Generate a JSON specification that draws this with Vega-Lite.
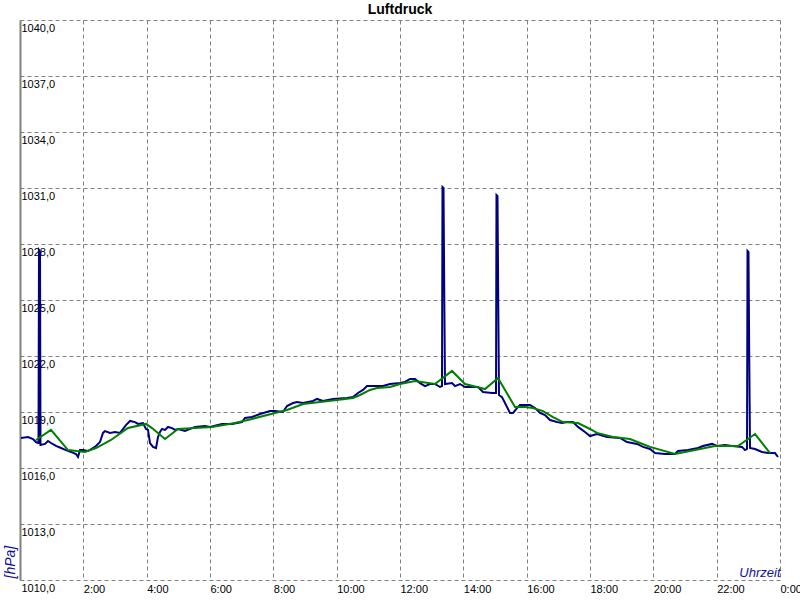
{
  "$schema": "https://vega.github.io/schema/vega-lite/v6.json",
  "width": 760,
  "height": 560,
  "autosize": "none",
  "padding": {"left": 20, "top": 20, "right": 20, "bottom": 20},
  "background": "white",
  "title": {"text": "Luftdruck", "font": "Liberation Sans", "fontSize": 14, "fontWeight": "bold", "color": "black", "offset": 3},
  "config": {"view": {"stroke": null}},
  "datasets": {
    "ist": [
      {"t": 0.032, "p": 1017.61}, {"t": 0.253, "p": 1017.66}, {"t": 0.411, "p": 1017.55}, {"t": 0.505, "p": 1017.39},
      {"t": 0.568, "p": 1017.34}, {"t": 0.584, "p": 1017.34}, {"t": 0.600, "p": 1027.68}, {"t": 0.632, "p": 1027.6}, {"t": 0.647, "p": 1017.23},
      {"t": 0.789, "p": 1017.29}, {"t": 0.884, "p": 1017.45}, {"t": 0.979, "p": 1017.34}, {"t": 1.137, "p": 1017.18},
      {"t": 1.295, "p": 1017.07}, {"t": 1.453, "p": 1016.96}, {"t": 1.611, "p": 1016.86}, {"t": 1.768, "p": 1016.75},
      {"t": 1.832, "p": 1016.59}, {"t": 1.895, "p": 1016.96}, {"t": 1.989, "p": 1016.96}, {"t": 2.147, "p": 1016.91},
      {"t": 2.368, "p": 1017.13}, {"t": 2.526, "p": 1017.39}, {"t": 2.621, "p": 1017.88}, {"t": 2.684, "p": 1017.98},
      {"t": 2.842, "p": 1017.88}, {"t": 3.0, "p": 1017.93}, {"t": 3.158, "p": 1017.88}, {"t": 3.347, "p": 1018.30},
      {"t": 3.474, "p": 1018.52}, {"t": 3.632, "p": 1018.46}, {"t": 3.726, "p": 1018.36}, {"t": 3.884, "p": 1018.41},
      {"t": 3.979, "p": 1018.09}, {"t": 4.042, "p": 1018.04}, {"t": 4.105, "p": 1017.34}, {"t": 4.2, "p": 1017.13},
      {"t": 4.295, "p": 1017.07}, {"t": 4.358, "p": 1017.66}, {"t": 4.421, "p": 1017.93}, {"t": 4.484, "p": 1018.09},
      {"t": 4.579, "p": 1018.04}, {"t": 4.674, "p": 1018.20}, {"t": 4.8, "p": 1018.14}, {"t": 4.895, "p": 1018.04},
      {"t": 4.989, "p": 1018.09}, {"t": 5.211, "p": 1017.98}, {"t": 5.526, "p": 1018.20}, {"t": 5.842, "p": 1018.25},
      {"t": 6.0, "p": 1018.20}, {"t": 6.379, "p": 1018.36}, {"t": 6.695, "p": 1018.36}, {"t": 7.011, "p": 1018.46},
      {"t": 7.105, "p": 1018.68}, {"t": 7.326, "p": 1018.73}, {"t": 7.579, "p": 1018.89}, {"t": 7.895, "p": 1019.05},
      {"t": 8.053, "p": 1019.05}, {"t": 8.305, "p": 1019.00}, {"t": 8.432, "p": 1019.32}, {"t": 8.621, "p": 1019.48},
      {"t": 8.747, "p": 1019.54}, {"t": 8.937, "p": 1019.48}, {"t": 9.095, "p": 1019.54}, {"t": 9.253, "p": 1019.59},
      {"t": 9.379, "p": 1019.70}, {"t": 9.568, "p": 1019.59}, {"t": 9.884, "p": 1019.70}, {"t": 10.326, "p": 1019.75},
      {"t": 10.516, "p": 1019.80}, {"t": 10.674, "p": 1020.02}, {"t": 10.832, "p": 1020.18}, {"t": 10.958, "p": 1020.39},
      {"t": 11.274, "p": 1020.39}, {"t": 11.463, "p": 1020.39}, {"t": 11.684, "p": 1020.50}, {"t": 12.0, "p": 1020.55},
      {"t": 12.158, "p": 1020.61}, {"t": 12.316, "p": 1020.77}, {"t": 12.474, "p": 1020.77}, {"t": 12.632, "p": 1020.55},
      {"t": 12.789, "p": 1020.39}, {"t": 12.947, "p": 1020.50}, {"t": 13.105, "p": 1020.50}, {"t": 13.263, "p": 1020.34},
      {"t": 13.326, "p": 1020.39}, {"t": 13.342, "p": 1031.05}, {"t": 13.374, "p": 1031.0}, {"t": 13.396, "p": 1025.80}, {"t": 13.421, "p": 1020.50},
      {"t": 13.642, "p": 1020.55}, {"t": 13.737, "p": 1020.39}, {"t": 13.895, "p": 1020.50}, {"t": 14.053, "p": 1020.34},
      {"t": 14.211, "p": 1020.34}, {"t": 14.463, "p": 1020.34}, {"t": 14.621, "p": 1020.07}, {"t": 14.905, "p": 1020.02},
      {"t": 15.032, "p": 1020.02}, {"t": 15.047, "p": 1030.63}, {"t": 15.079, "p": 1030.58}, {"t": 15.101, "p": 1025.27}, {"t": 15.126, "p": 1019.91},
      {"t": 15.221, "p": 1019.80}, {"t": 15.316, "p": 1019.48}, {"t": 15.474, "p": 1018.95}, {"t": 15.568, "p": 1018.95},
      {"t": 15.695, "p": 1019.21}, {"t": 15.789, "p": 1019.38}, {"t": 15.947, "p": 1019.38}, {"t": 16.105, "p": 1019.38},
      {"t": 16.263, "p": 1019.21}, {"t": 16.421, "p": 1018.95}, {"t": 16.579, "p": 1018.84}, {"t": 16.737, "p": 1018.57},
      {"t": 16.958, "p": 1018.46}, {"t": 17.116, "p": 1018.41}, {"t": 17.274, "p": 1018.46}, {"t": 17.463, "p": 1018.46},
      {"t": 17.621, "p": 1018.20}, {"t": 17.842, "p": 1017.93}, {"t": 18.0, "p": 1017.71}, {"t": 18.221, "p": 1017.82},
      {"t": 18.537, "p": 1017.66}, {"t": 18.947, "p": 1017.61}, {"t": 19.168, "p": 1017.39}, {"t": 19.484, "p": 1017.29},
      {"t": 19.674, "p": 1017.13}, {"t": 19.895, "p": 1017.02}, {"t": 20.053, "p": 1016.80}, {"t": 20.368, "p": 1016.75},
      {"t": 20.684, "p": 1016.75}, {"t": 20.779, "p": 1016.91}, {"t": 21.095, "p": 1016.96}, {"t": 21.411, "p": 1017.07},
      {"t": 21.568, "p": 1017.18}, {"t": 21.853, "p": 1017.29}, {"t": 22.011, "p": 1017.18}, {"t": 22.263, "p": 1017.23},
      {"t": 22.484, "p": 1017.18}, {"t": 22.8, "p": 1017.13}, {"t": 22.895, "p": 1016.96}, {"t": 22.958, "p": 1017.02},
      {"t": 22.974, "p": 1027.63}, {"t": 23.005, "p": 1027.58}, {"t": 23.027, "p": 1022.32}, {"t": 23.053, "p": 1017.07}, {"t": 23.211, "p": 1017.02},
      {"t": 23.432, "p": 1016.86}, {"t": 23.621, "p": 1016.80}, {"t": 23.842, "p": 1016.80}, {"t": 23.937, "p": 1016.59}
    ],
    "mittel": [
      {"t": 0.505, "p": 1017.50}, {"t": 0.979, "p": 1018.04}, {"t": 1.516, "p": 1016.96}, {"t": 2.053, "p": 1016.86},
      {"t": 2.4, "p": 1017.07}, {"t": 2.874, "p": 1017.50}, {"t": 3.411, "p": 1018.14}, {"t": 3.979, "p": 1018.36},
      {"t": 4.168, "p": 1018.14}, {"t": 4.579, "p": 1017.55}, {"t": 4.989, "p": 1018.09}, {"t": 6.063, "p": 1018.20},
      {"t": 6.789, "p": 1018.41}, {"t": 7.326, "p": 1018.63}, {"t": 8.053, "p": 1018.95}, {"t": 8.432, "p": 1019.11},
      {"t": 8.937, "p": 1019.43}, {"t": 9.474, "p": 1019.54}, {"t": 10.011, "p": 1019.64}, {"t": 10.516, "p": 1019.75},
      {"t": 10.737, "p": 1019.91}, {"t": 11.053, "p": 1020.18}, {"t": 11.274, "p": 1020.29}, {"t": 11.684, "p": 1020.34},
      {"t": 12.0, "p": 1020.50}, {"t": 12.474, "p": 1020.66}, {"t": 13.105, "p": 1020.50}, {"t": 13.642, "p": 1021.20},
      {"t": 14.053, "p": 1020.50}, {"t": 14.684, "p": 1020.23}, {"t": 15.095, "p": 1020.82}, {"t": 15.632, "p": 1019.27},
      {"t": 15.947, "p": 1019.27}, {"t": 16.2, "p": 1019.21}, {"t": 16.516, "p": 1019.05}, {"t": 16.832, "p": 1018.73},
      {"t": 17.147, "p": 1018.46}, {"t": 17.621, "p": 1018.41}, {"t": 18.0, "p": 1018.09}, {"t": 18.221, "p": 1017.88},
      {"t": 18.726, "p": 1017.66}, {"t": 19.263, "p": 1017.55}, {"t": 19.579, "p": 1017.34}, {"t": 19.895, "p": 1017.13},
      {"t": 20.684, "p": 1016.75}, {"t": 21.316, "p": 1016.96}, {"t": 21.947, "p": 1017.18}, {"t": 22.674, "p": 1017.18},
      {"t": 23.211, "p": 1017.82}, {"t": 23.684, "p": 1016.80}
    ]
  },
  "layer": [
    {
      "data": {"name": "ist"},
      "mark": {"type": "line", "color": "#000080", "strokeWidth": 2, "clip": true},
      "encoding": {
        "x": {
          "field": "t", "type": "quantitative",
          "scale": {"domain": [0, 24], "nice": false, "zero": false},
          "axis": {
            "values": [0, 2, 4, 6, 8, 10, 12, 14, 16, 18, 20, 22, 24],
            "labelExpr": "datum.value == 0 ? '' : (datum.value % 24) + ':00'",
            "labelAlign": "left", "labelBaseline": "top", "labelPadding": 3,
            "labelFlush": false, "labelOverlap": false,
            "labelFont": "Liberation Sans", "labelFontSize": 11, "labelColor": "black",
            "ticks": false, "tickSize": 0, "domain": false,
            "grid": true, "gridColor": "#808080", "gridDash": [4, 3], "gridWidth": 1, "gridOpacity": 1,
            "title": "Uhrzeit", "titleFont": "Liberation Sans", "titleFontSize": 13, "titleFontStyle": "italic",
            "titleFontWeight": "normal", "titleColor": "#10109a",
            "titleAnchor": "end", "titleAlign": "right", "titleBaseline": "alphabetic",
            "titleX": 760, "titleY": -4
          }
        },
        "y": {
          "field": "p", "type": "quantitative",
          "scale": {"domain": [1010, 1040], "nice": false, "zero": false},
          "axis": {
            "values": [1010, 1013, 1016, 1019, 1022, 1025, 1028, 1031, 1034, 1037, 1040],
            "labelExpr": "replace(format(datum.value, '.1f'), '.', ',')",
            "labelAlign": "left", "labelBaseline": "top", "labelPadding": -1, "labelOffset": 2,
            "labelFlush": false, "labelOverlap": false,
            "labelFont": "Liberation Sans", "labelFontSize": 11, "labelColor": "black",
            "ticks": false, "tickSize": 0,
            "domain": true, "domainColor": "#808080", "domainWidth": 2,
            "grid": true, "gridColor": "#808080", "gridDash": [4, 3], "gridWidth": 1, "gridOpacity": 1,
            "title": "[hPa]", "titleFont": "Liberation Sans", "titleFontSize": 14, "titleFontStyle": "italic",
            "titleFontWeight": "normal", "titleColor": "#10109a",
            "titleAngle": 270, "titleAlign": "left", "titleBaseline": "middle",
            "titleX": -10, "titleY": 558
          }
        }
      }
    },
    {
      "data": {"name": "mittel"},
      "mark": {"type": "line", "color": "#008000", "strokeWidth": 2, "clip": true},
      "encoding": {
        "x": {"field": "t", "type": "quantitative"},
        "y": {"field": "p", "type": "quantitative"}
      }
    }
  ]
}
